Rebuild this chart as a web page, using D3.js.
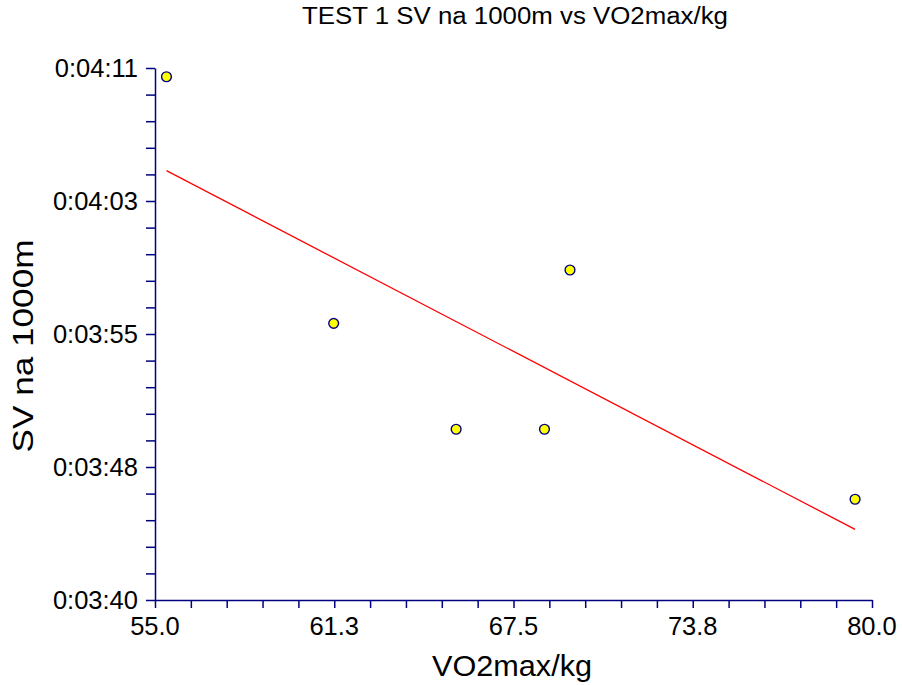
<!DOCTYPE html>
<html>
<head>
<meta charset="utf-8">
<script src="https://cdn.jsdelivr.net/npm/d3@7"></script>
<style>
  body { margin: 0; background: #fff; }
  text { font-family: "Liberation Sans", Arial, sans-serif; fill: #000; }
</style>
</head>
<body>
<div id="chart"></div>
<script>
// data (x = VO2max/kg, y = time in seconds)
const vo2 = [55.40, 61.23, 65.50, 68.58, 69.47, 79.41];
const seconds = [250.49, 236.12, 229.95, 229.95, 239.23, 225.87];

// axis ticks
const xTicks = [55.0, 61.25, 67.5, 73.75, 80.0];
const xTickLabels = ["55.0", "61.3", "67.5", "73.8", "80.0"];
const yTicks = [220, 227.75, 235.5, 243.25, 251];
const yTickLabels = ["0:03:40", "0:03:48", "0:03:55", "0:04:03", "0:04:11"];

const titleText = "TEST 1 SV na 1000m vs VO2max/kg";
const xTitle = "VO2max/kg";
const yTitle = "SV na 1000m";

// svg setup
const width = 902, height = 685;
const plotLeft = 155, plotRight = 872, plotTop = 68, plotBottom = 600;
const axisColor = "#000080";

const svg = d3.select("#chart")
  .append("svg")
    .attr("width", width)
    .attr("height", height);

// scales
const x = d3.scaleLinear().domain([55, 80]).range([plotLeft, plotRight]);
const y = d3.scaleLinear().domain([220, 251]).range([plotBottom, plotTop]);

// minor ticks: 5 steps between each major tick
const minorX = d3.range(0, 21).map(i => 55 + i * 1.25);
const minorY = d3.range(0, 21).map(i => 220 + i * 1.55);

// x axis
const xAxis = svg.append("g")
    .attr("transform", `translate(0,${plotBottom})`)
    .call(d3.axisBottom(x).tickValues(minorX).tickSize(8).tickFormat("").tickSizeOuter(0));
xAxis.select(".domain").attr("stroke", axisColor).attr("stroke-width", 1.5);
xAxis.selectAll(".tick line").attr("stroke", axisColor).attr("stroke-width", 1.5);

svg.append("g")
  .selectAll("text")
  .data(xTicks)
  .join("text")
    .attr("x", d => x(d))
    .attr("y", 635)
    .attr("text-anchor", "middle")
    .style("font-size", "25.5px")
    .text((d, i) => xTickLabels[i]);

// y axis
const yAxis = svg.append("g")
    .attr("transform", `translate(${plotLeft},0)`)
    .call(d3.axisLeft(y).tickValues(minorY).tickSize(9).tickFormat("").tickSizeOuter(0));
yAxis.select(".domain").attr("stroke", axisColor).attr("stroke-width", 1.5);
yAxis.selectAll(".tick line").attr("stroke", axisColor).attr("stroke-width", 1.5);

svg.append("g")
  .selectAll("text")
  .data(yTicks)
  .join("text")
    .attr("x", 138)
    .attr("y", d => y(d))
    .attr("dy", "0.35em")
    .attr("text-anchor", "end")
    .style("font-size", "25.5px")
    .text((d, i) => yTickLabels[i]);

// titles
svg.append("text")
    .attr("x", 515)
    .attr("y", 24)
    .attr("text-anchor", "middle")
    .style("font-size", "23px")
    .attr("textLength", 426)
    .attr("lengthAdjust", "spacingAndGlyphs")
    .text(titleText);

svg.append("text")
    .attr("x", 512)
    .attr("y", 676)
    .attr("text-anchor", "middle")
    .style("font-size", "30px")
    .attr("textLength", 160)
    .attr("lengthAdjust", "spacingAndGlyphs")
    .text(xTitle);

svg.append("text")
    .attr("transform", "translate(33,346) rotate(-90)")
    .attr("text-anchor", "middle")
    .style("font-size", "30px")
    .attr("textLength", 213)
    .attr("lengthAdjust", "spacingAndGlyphs")
    .text(yTitle);

// regression line (least squares over the points)
const mx = d3.mean(vo2), my = d3.mean(seconds);
const slope = d3.sum(vo2, (v, i) => (v - mx) * (seconds[i] - my)) /
              d3.sum(vo2, v => (v - mx) * (v - mx));
const fit = v => my + slope * (v - mx);
const xExt = d3.extent(vo2);

svg.append("path")
    .datum(xExt)
    .attr("fill", "none")
    .attr("stroke", "#ff0000")
    .attr("stroke-width", 1.3)
    .attr("d", d3.line().x(d => x(d)).y(d => y(fit(d))));

// points
svg.append("g")
  .selectAll("circle")
  .data(vo2)
  .join("circle")
    .attr("cx", d => x(d))
    .attr("cy", (d, i) => y(seconds[i]))
    .attr("r", 4.9)
    .attr("fill", "#ffff00")
    .attr("stroke", axisColor)
    .attr("stroke-width", 1.4);
</script>
</body>
</html>
